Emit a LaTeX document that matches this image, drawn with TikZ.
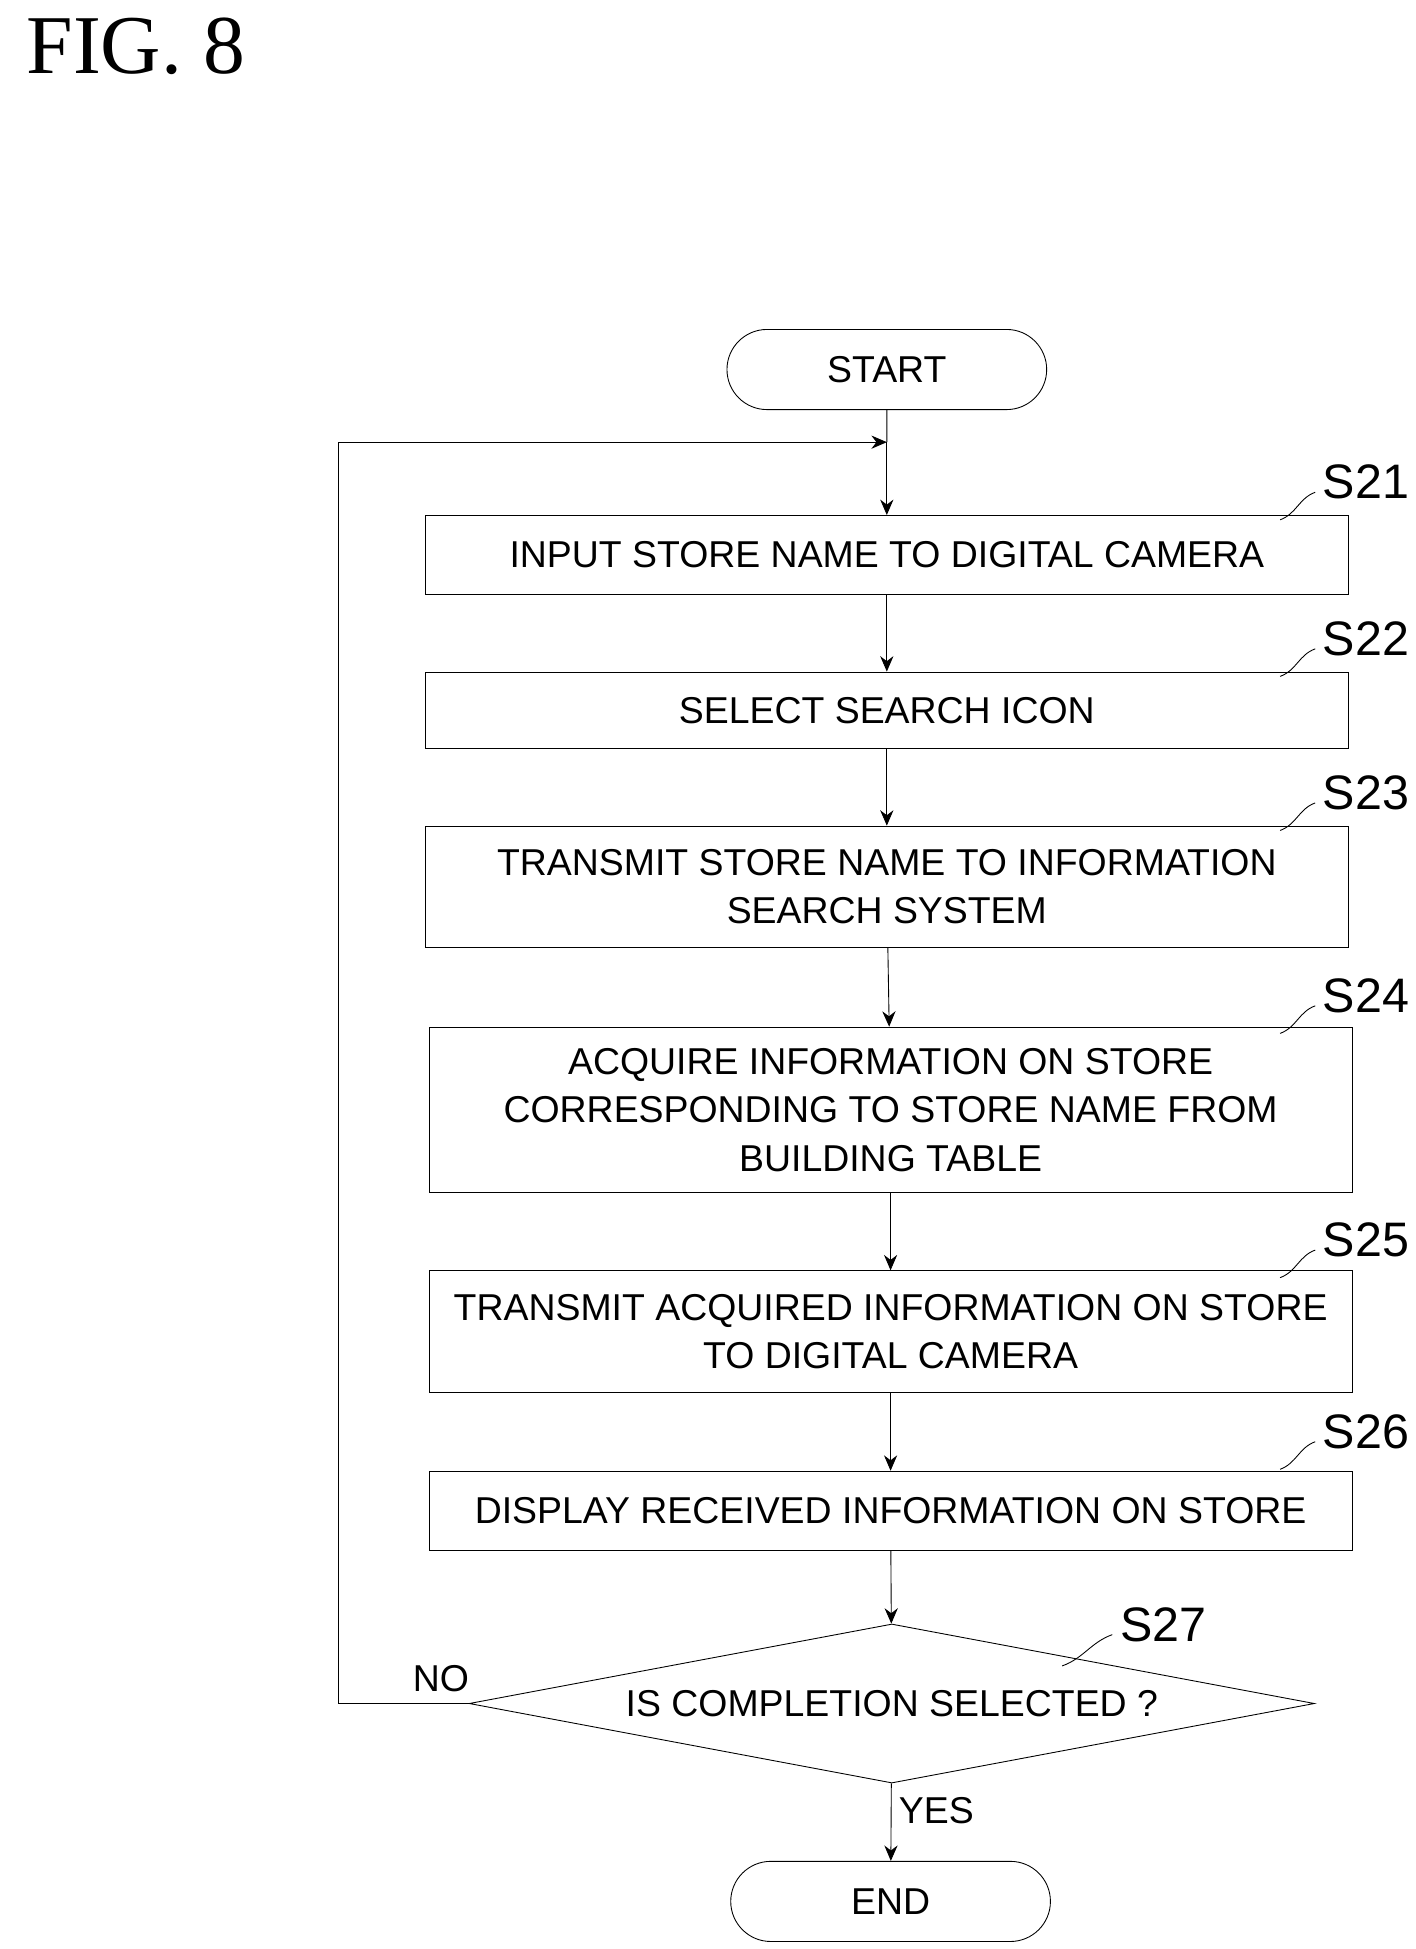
\documentclass[tikz,border=0pt]{standalone}
\usepackage{fontspec}
\setmainfont{Liberation Sans}
\newfontfamily\figfont{Liberation Serif}
\usetikzlibrary{arrows.meta, positioning, shapes.geometric, shapes.misc}

\tikzset{
    procbox/.style={draw, rectangle, minimum width=14.74cm, align=center, font=\fontsize{17}{22}\selectfont, inner sep=2pt},
    term/.style={draw, rounded rectangle, minimum width=5.34cm, minimum height=1.28cm, font=\fontsize{17}{22}\selectfont},
    flow/.style={-{Stealth[length=7pt,width=6pt]}, thin},
    tag/.style={font=\fontsize{22}{26}\selectfont},
}

\begin{document}
\begin{tikzpicture}[x=0.02cm, y=-0.02cm]
    \useasboundingbox (0,0) rectangle (1130,1556);
    % Title
    \node[anchor=north west, font=\fontsize{38}{42}\selectfont\figfont] (title) at (15,8) {FIG. 8};

    % Nodes
    \node[term] (start) at (708,295) {START};
    \node[procbox, minimum height=1.26cm] (s21) at (708,443) {INPUT STORE NAME TO DIGITAL CAMERA};
    \node[procbox, minimum height=1.22cm] (s22) at (708,567) {SELECT SEARCH ICON};
    \node[procbox, minimum height=1.94cm] (s23) at (708,708) {TRANSMIT STORE NAME TO INFORMATION\\SEARCH SYSTEM};
    \node[procbox, minimum height=2.64cm] (s24) at (711,886) {ACQUIRE INFORMATION ON STORE\\CORRESPONDING TO STORE NAME FROM\\BUILDING TABLE};
    \node[procbox, minimum height=1.94cm] (s25) at (711,1063) {TRANSMIT ACQUIRED INFORMATION ON STORE\\TO DIGITAL CAMERA};
    \node[procbox, minimum height=1.26cm] (s26) at (711,1206) {DISPLAY RECEIVED INFORMATION ON STORE};
    \node[draw, diamond, aspect=5.3, minimum width=13.5cm, minimum height=2.54cm, inner sep=0pt, font=\fontsize{17}{22}\selectfont] (s27) at (712,1360) {IS COMPLETION SELECTED ?};
    \node[term] (end) at (711,1518) {END};
    \coordinate (merge) at (708,353);
    \coordinate (corner1) at (270,1360);
    \coordinate (corner2) at (270,353);

    % Step tags
    \foreach \s/\y in {21/385, 22/510, 23/633, 24/795, 25/990, 26/1143} {
        \node[tag, anchor=west] (t\s) at (1050,\y) {S\s};
        \draw (t\s.west) ++(0,8) to[out=200, in=20] ++(-28,22);
    }
    \node[tag, anchor=west] (t27) at (888,1297) {S27};
    \draw (t27.west) ++(0,8) to[out=200, in=20] ++(-40,25);

    % Arrows
    \draw (start) -- (merge);
    \draw[flow] (merge) -- (s21);
    \draw[flow] (s21) -- (s22);
    \draw[flow] (s22) -- (s23);
    \draw[flow] (s23) -- (s24);
    \draw[flow] (s24) -- (s25);
    \draw[flow] (s25) -- (s26);
    \draw[flow] (s26) -- (s27);
    \draw[flow] (s27) -- (end) node[pos=0.35, right, font=\fontsize{17}{22}\selectfont] {YES};
    \draw[flow] (s27.west) -- (corner1) -- (corner2) -- (merge);
    \node[font=\fontsize{17}{22}\selectfont] (no) at (352,1340) {NO};
\end{tikzpicture}
\end{document}
